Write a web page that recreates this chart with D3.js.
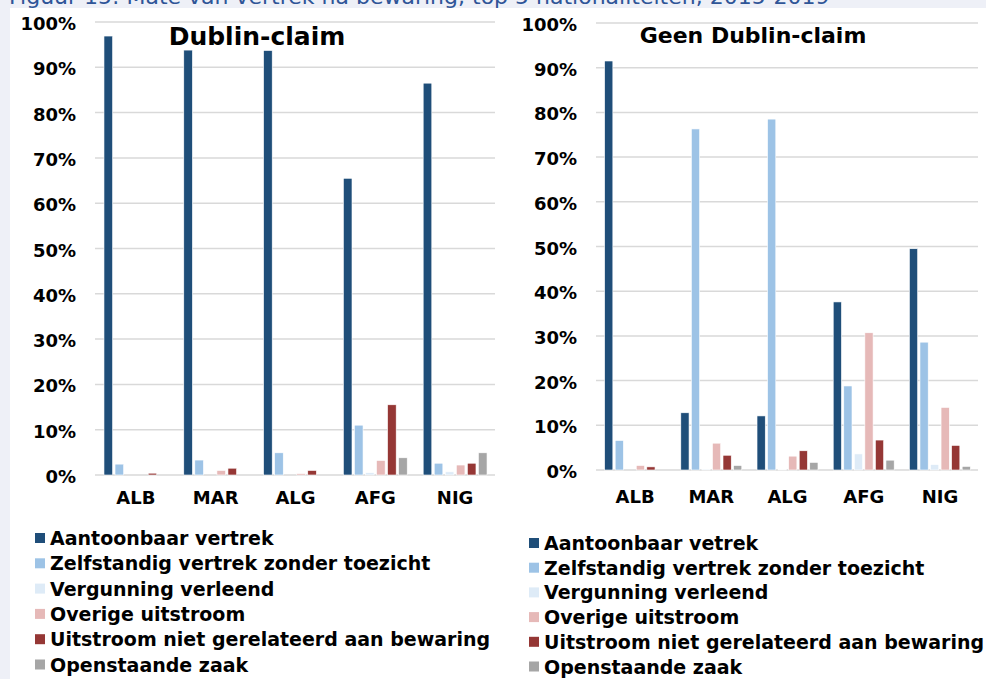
<!DOCTYPE html>
<html>
<head>
<meta charset="utf-8">
<script src="https://cdn.jsdelivr.net/npm/d3@7"></script>
<style>
  body { margin: 0; background: #eef0f7; }
  svg { display: block; font-family: "DejaVu Sans", Verdana, sans-serif; }
</style>
</head>
<body>
<script>
// data (percentages)
var categories = ['ALB', 'MAR', 'ALG', 'AFG', 'NIG']
var seriesNames = ['Aantoonbaar vertrek', 'Zelfstandig vertrek zonder toezicht', 'Vergunning verleend',
                   'Overige uitstroom', 'Uitstroom niet gerelateerd aan bewaring', 'Openstaande zaak']
var seriesNamesRight = ['Aantoonbaar vetrek', 'Zelfstandig vertrek zonder toezicht', 'Vergunning verleend',
                        'Overige uitstroom', 'Uitstroom niet gerelateerd aan bewaring', 'Openstaande zaak']
var colors = ['#1f4e79', '#9dc3e6', '#deebf7', '#e6b9b8', '#953735', '#a6a6a6']
var yTicks = [0, 10, 20, 30, 40, 50, 60, 70, 80, 90, 100]

// rows = categories, columns = series
var dublin = [
  [96.9, 2.4, 0, 0, 0.4, 0],
  [93.8, 3.3, 0, 1.0, 1.5, 0],
  [93.7, 4.9, 0, 0.3, 1.0, 0],
  [65.5, 11.0, 0.5, 3.2, 15.5, 3.8],
  [86.5, 2.6, 0.7, 2.2, 2.6, 4.9]
]
var geenDublin = [
  [91.5, 6.6, 0, 1.0, 0.7, 0],
  [12.8, 76.3, 0.2, 6.0, 3.3, 1.0],
  [12.1, 78.5, 0.1, 3.1, 4.3, 1.7],
  [37.6, 18.8, 3.6, 30.7, 6.7, 2.2],
  [49.5, 28.6, 1.2, 14.0, 5.5, 0.8]
]

var width = 986, height = 679

var svg = d3.select('body')
    .append('svg')
    .attr('width', width)
    .attr('height', height)

svg.append('rect')
    .attr('x', 10).attr('y', 8)
    .attr('width', width - 10).attr('height', height - 8)
    .attr('fill', '#fff')

// figure caption, cut off at the top like in the source
svg.append('text')
    .attr('x', 9).attr('y', 4)
    .attr('fill', '#2f5597')
    .style('font-size', '22px')
    .text('Figuur 15: Mate van vertrek na bewaring, top 5 nationaliteiten, 2015-2019')

function drawPanel(opts) {
    var g = svg.append('g')

    var y = d3.scaleLinear()
        .domain([0, 100])
        .range([opts.bottom, opts.top])

    var x0 = d3.scaleBand()
        .domain(categories)
        .range([opts.left, opts.right])
        .paddingInner(0.2)
        .paddingOuter(0.1)

    var x1 = d3.scaleBand()
        .domain(d3.range(seriesNames.length))
        .range([0, x0.bandwidth()])
        .paddingInner(0.22)

    // gridlines
    g.selectAll('line.grid')
        .data(yTicks)
        .enter().append('line')
        .attr('class', 'grid')
        .attr('x1', opts.left - 1)
        .attr('x2', opts.right)
        .attr('y1', function (d) { return y(d) })
        .attr('y2', function (d) { return y(d) })
        .attr('stroke', '#d9d9d9')
        .attr('stroke-width', 1.5)

    // y axis labels
    var yAxis = d3.axisLeft(y)
        .tickValues(yTicks)
        .tickFormat(function (d) { return d + '%' })
        .tickSize(0)
        .tickPadding(0)
    var ya = g.append('g')
        .attr('transform', 'translate(' + opts.labelX + ',0)')
        .call(yAxis)
    ya.select('.domain').remove()
    ya.selectAll('text')
        .attr('fill', '#000')
        .style('font-size', '18px')
        .style('font-weight', 'bold')
        .style('font-family', '"DejaVu Sans", Verdana, sans-serif')
        .attr('dy', '0.42em')

    // bars
    var groups = g.selectAll('g.cat')
        .data(opts.data)
        .enter().append('g')
        .attr('class', 'cat')
        .attr('transform', function (d, i) { return 'translate(' + x0(categories[i]) + ',0)' })

    groups.selectAll('rect')
        .data(function (d) { return d })
        .enter().append('rect')
        .attr('x', function (d, i) { return x1(i) })
        .attr('width', x1.bandwidth())
        .attr('y', function (d) { return y(d) })
        .attr('height', function (d) { return y(0) - y(d) })
        .attr('fill', function (d, i) { return colors[i] })
        .attr('stroke', '#fff')
        .attr('stroke-width', 0.6)

    // category labels
    var xAxis = d3.axisBottom(x0).tickSize(0).tickPadding(0)
    var xa = g.append('g')
        .attr('transform', 'translate(0,' + opts.catY + ')')
        .call(xAxis)
    xa.select('.domain').remove()
    xa.selectAll('text')
        .attr('fill', '#000')
        .attr('dy', 0)
        .style('font-size', '18px')
        .style('font-weight', 'bold')
        .style('font-family', '"DejaVu Sans", Verdana, sans-serif')

    // panel title
    g.append('text')
        .attr('x', opts.titleX)
        .attr('y', opts.titleY)
        .attr('text-anchor', 'middle')
        .style('font-size', opts.titleSize)
        .style('font-weight', 'bold')
        .text(opts.title)

    // legend
    var leg = g.selectAll('g.leg')
        .data(opts.names)
        .enter().append('g')
        .attr('class', 'leg')
        .attr('transform', function (d, i) {
            return 'translate(' + opts.legX + ',' + (opts.legY + i * opts.legStep) + ')'
        })
    leg.append('rect')
        .attr('x', 0).attr('y', -12)
        .attr('width', 10).attr('height', 10)
        .attr('fill', function (d, i) { return colors[i] })
    leg.append('text')
        .attr('x', 15)
        .attr('y', 0)
        .style('font-size', '19px')
        .style('font-weight', 'bold')
        .text(function (d) { return d })
}

drawPanel({
    data: dublin, names: seriesNames,
    left: 96, right: 495, top: 22, bottom: 475,
    labelX: 76, catY: 504,
    title: 'Dublin-claim', titleX: 257, titleY: 45, titleSize: '25px',
    legX: 35, legY: 545, legStep: 25.3
})

drawPanel({
    data: geenDublin, names: seriesNamesRight,
    left: 597, right: 978, top: 23, bottom: 470,
    labelX: 577, catY: 503,
    title: 'Geen Dublin-claim', titleX: 753, titleY: 43, titleSize: '22px',
    legX: 529, legY: 550, legStep: 24.7
})
</script>
</body>
</html>
